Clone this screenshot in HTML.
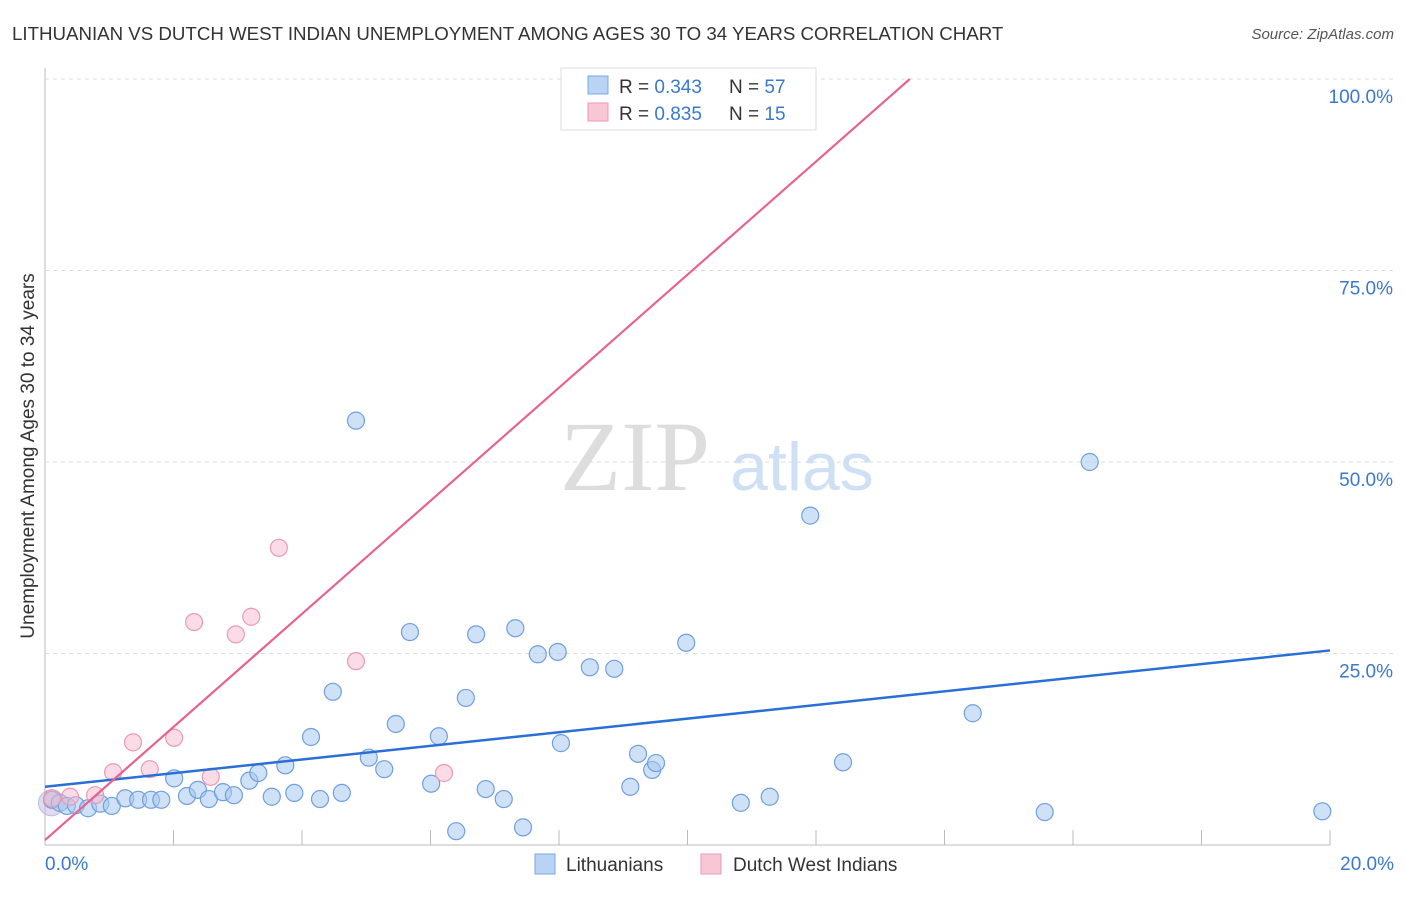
<!DOCTYPE html>
<html><head><meta charset="utf-8"><style>
body{margin:0;background:#fff;font-family:"Liberation Sans",sans-serif;}
</style></head><body>
<svg id="chart" width="1406" height="892" font-family="Liberation Sans, sans-serif">
<text x="12" y="40" font-size="18.7" fill="#333">LITHUANIAN VS DUTCH WEST INDIAN UNEMPLOYMENT AMONG AGES 30 TO 34 YEARS CORRELATION CHART</text>
<text x="1394" y="39" font-size="15" fill="#555" font-style="italic" text-anchor="end">Source: ZipAtlas.com</text>
<text x="34" y="456" font-size="19" fill="#333" text-anchor="middle" transform="rotate(-90 34 456)">Unemployment Among Ages 30 to 34 years</text>
<g id="grid"></g>
<text x="635" y="490" font-size="100" fill="#ddd" font-family="Liberation Serif, serif" text-anchor="middle">ZIP</text>
<text x="802" y="490" font-size="68" fill="#cfe0f5" text-anchor="middle">atlas</text>
<g id="marks"></g>
<g>
<rect x="561" y="68" width="255" height="62" fill="#fff" stroke="#ddd"/>
<rect x="588" y="76" width="20" height="18" fill="#b8d3f4" stroke="#7aa8e0"/>
<text x="619" y="93" font-size="19" fill="#333">R = <tspan fill="#3a78d0">0.343</tspan></text>
<text x="729" y="93" font-size="19" fill="#333">N = <tspan fill="#3a78d0">57</tspan></text>
<rect x="588" y="103" width="20" height="18" fill="#f9c6d5" stroke="#eb9ab4"/>
<text x="619" y="120" font-size="19" fill="#333">R = <tspan fill="#3a78d0">0.835</tspan></text>
<text x="729" y="120" font-size="19" fill="#333">N = <tspan fill="#3a78d0"> 15</tspan></text>
</g>
<g>
<rect x="535" y="854" width="20" height="20" fill="#b8d3f4" stroke="#7aa8e0"/>
<text x="566" y="871" font-size="19" fill="#333">Lithuanians</text>
<rect x="701" y="854" width="20" height="20" fill="#f9c6d5" stroke="#eb9ab4"/>
<text x="733" y="871" font-size="19" fill="#333">Dutch West Indians</text>
</g>
</svg>
<script>
const xTicks=[0,2,4,6,8,10,12,14,16,18,20];
const yTicks=[25,50,75,100];
const yTickLabels=["25.0%","50.0%","75.0%","100.0%"];
const blueX=[0.11,0.23,0.34,0.48,0.67,0.86,1.04,1.25,1.45,1.65,1.81,2.01,2.21,2.38,2.55,2.77,2.94,3.18,3.32,3.53,3.74,3.88,4.14,4.28,4.48,4.62,4.84,5.04,5.28,5.46,5.68,6.01,6.13,6.40,6.55,6.71,6.86,7.14,7.32,7.44,7.67,7.98,8.03,8.48,8.86,9.11,9.23,9.45,9.51,9.98,10.83,11.28,11.91,12.42,14.44,15.56,16.26,19.88];
const blueY=[5.9,5.5,5.1,5.2,4.8,5.4,5.1,6.1,5.9,5.9,5.9,8.7,6.4,7.2,6.0,6.9,6.5,8.4,9.4,6.3,10.4,6.8,14.1,6.0,20.0,6.8,55.4,11.4,9.9,15.8,27.8,8.0,14.2,1.8,19.2,27.5,7.3,6.0,28.3,2.3,24.9,25.2,13.3,23.2,23.0,7.6,11.9,9.8,10.7,26.4,5.5,6.3,43.0,10.8,17.2,4.3,50.0,4.4];
const pinkX=[0.11,0.39,0.78,1.06,1.37,1.63,2.01,2.32,2.58,2.97,3.21,3.64,4.84,6.21,10.68];
const pinkY=[6.1,6.3,6.5,9.5,13.4,9.9,14.0,29.1,8.9,27.5,29.8,38.8,24.0,9.4,100.0];
const blueLine=[7.6,25.4];
const pinkLine=[0.65,100,13.46];
const X=v=>45+v*64.25, Y=v=>845-v*7.66;
const NS="http://www.w3.org/2000/svg";
const grid=document.getElementById('grid'), marks=document.getElementById('marks');
function mk(p,tag,a){const e=document.createElementNS(NS,tag);for(const k in a)e.setAttribute(k,a[k]);p.appendChild(e);return e;}
let e=mk(grid,'line',{x1:45,y1:68,x2:45,y2:845,stroke:'#bbb'});


e=mk(grid,'line',{x1:45,y1:845,x2:1330,y2:845,stroke:'#bbb'});


yTicks.forEach((t,i)=>{
 e=mk(grid,'line',{x1:45,y1:Y(t),x2:1394,y2:Y(t),stroke:'#ddd','stroke-dasharray':'4,4'});
 
 
 e=mk(grid,'text',{x:1393,y:Y(t)+24,'font-size':19,fill:'#3a78d0','text-anchor':'end'});
 e.textContent=yTickLabels[i];
 
 
});
xTicks.slice(1).forEach(t=>{
 e=mk(grid,'line',{x1:X(t),y1:830,x2:X(t),y2:845,stroke:'#bbb'});
 
 
});
e=mk(grid,'text',{x:45,y:870,'font-size':19,fill:'#3a78d0'});e.textContent='0.0%';


e=mk(grid,'text',{x:1394,y:870,'font-size':19,fill:'#3a78d0','text-anchor':'end'});e.textContent='20.0%';


e=mk(marks,'circle',{cx:X(0.1),cy:Y(5.5),r:13,fill:'rgba(200,180,220,0.5)',stroke:'rgba(150,160,220,0.6)'});


blueX.forEach((x,i)=>{
 e=mk(marks,'circle',{cx:X(x),cy:Y(blueY[i]),r:8.5,fill:'rgba(168,200,240,0.55)',stroke:'#6f9fdf','stroke-width':1.2});
 
 
});
pinkX.forEach((x,i)=>{
 e=mk(marks,'circle',{cx:X(x),cy:Y(pinkY[i]),r:8.5,fill:'rgba(247,184,204,0.5)',stroke:'#eb9ab4','stroke-width':1.2});
 
 
});
e=mk(marks,'line',{x1:X(0),y1:Y(blueLine[0]),x2:X(20),y2:Y(blueLine[1]),stroke:'#2a6fd6','stroke-width':2.5});


e=mk(marks,'line',{x1:X(0),y1:Y(pinkLine[0]),x2:X(pinkLine[2]),y2:Y(pinkLine[1]),stroke:'#e8628e','stroke-width':2.2});


</script>
</body></html>
